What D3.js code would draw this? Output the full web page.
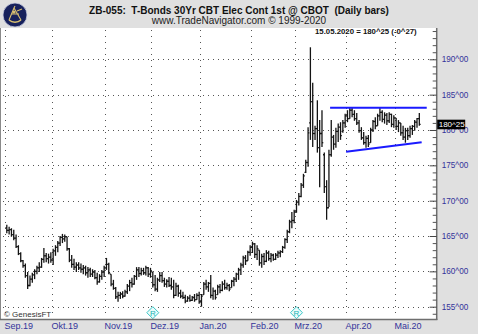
<!DOCTYPE html>
<html><head><meta charset="utf-8">
<script src="https://cdn.jsdelivr.net/npm/d3@7"></script>
<style>
html,body{margin:0;padding:0;background:#e0e0e0;overflow:hidden;}
svg{display:block;font-family:"Liberation Sans",Arial,sans-serif;}
</style></head><body>
<svg id="c" width="478" height="334"></svg>
<script>
// ---- data ----
const highs = [
166.6,166.3,166.1,165.9,165.2,163.7,162.7,161.6,161.1,159.9,
159.4,159.8,160.3,160.8,161.3,161.9,163.3,162.6,162.5,162.7,
163.2,163.7,164.3,165.0,165.3,165.2,164.9,163.3,162.3,161.8,
161.3,161.3,161.1,160.9,160.8,160.6,160.5,160.3,160.2,159.8,
159.6,160.2,160.8,161.9,161.2,159.6,158.8,157.8,157.1,157.1,
157.2,157.4,158.2,158.8,159.1,159.5,160.6,160.6,160.5,160.5,
160.8,160.6,160.5,159.9,159.5,159.1,159.9,159.9,159.1,158.9,
159.2,159.1,158.8,158.4,158.1,157.4,157.1,156.7,156.5,156.7,
156.5,156.8,156.9,157.1,156.8,158.5,158.8,158.5,159.5,157.7,
157.4,158.1,158.2,158.6,158.8,158.4,158.2,158.8,159.2,159.8,
160.5,161.2,162.2,162.3,162.9,163.7,164.2,164.0,163.7,163.0,
162.5,162.6,163.0,162.9,162.6,162.5,162.6,162.9,163.0,163.6,
164.7,165.9,167.3,168.4,168.7,170.1,171.1,172.5,173.8,175.8,
180.4,191.7,186.7,180.6,184.2,181.4,182.8,176.8,172.9,177.2,
181.4,179.3,180.3,180.9,181.1,181.4,182.3,182.8,183.1,183.2,
182.8,182.4,181.4,180.4,179.7,179.2,179.3,180.3,181.4,181.8,
182.3,183.2,182.8,182.5,182.4,182.5,182.3,182.1,181.7,181.4,
181.0,180.6,180.3,180.3,180.6,180.7,181.4,181.7,182.4];
const lows = [
165.4,165.2,164.9,164.4,163.3,162.3,161.3,160.5,159.1,157.5,
157.9,158.4,158.9,159.6,159.9,160.5,161.2,161.3,161.1,161.2,
160.9,162.2,162.7,163.6,164.0,164.2,162.9,161.3,160.5,160.2,
159.9,160.2,159.8,159.6,159.4,159.1,159.2,159.2,158.9,158.1,
158.4,158.8,159.2,160.2,159.6,157.9,157.4,156.1,155.7,156.1,
156.2,156.4,156.8,157.2,157.7,158.1,158.8,159.2,159.4,159.5,
159.4,159.2,159.1,157.7,157.2,157.1,158.5,158.4,157.8,157.7,
157.8,157.4,156.2,156.5,156.4,156.2,156.1,155.5,155.7,155.7,
155.8,155.7,156.0,155.4,155.0,156.7,157.4,157.1,156.2,156.0,
156.0,156.7,156.9,157.2,157.4,157.4,157.2,157.7,157.9,158.5,
158.8,159.5,160.5,160.9,161.5,162.2,162.6,161.9,161.6,160.8,
160.5,160.9,161.3,161.5,161.3,161.5,161.6,161.9,162.0,162.6,
163.2,164.0,165.4,166.1,166.8,168.3,169.3,170.5,171.8,173.9,
174.8,178.6,177.6,178.6,176.8,171.9,177.6,171.1,167.3,169.1,
176.2,177.2,177.5,178.3,178.6,179.6,180.3,181.1,181.6,181.8,
181.3,180.7,179.6,178.6,177.9,177.5,177.6,178.2,179.7,180.1,
180.6,181.3,181.1,180.9,180.7,181.0,180.4,180.3,180.0,179.7,
179.2,178.6,178.2,178.6,178.9,179.3,179.9,180.3,180.6];
const opens = [
166.2,165.8,165.9,165.2,164.7,163.5,162.5,161.5,160.8,159.4,
158.0,158.9,159.5,160.0,160.5,160.6,161.7,162.2,161.8,162.0,
161.6,162.9,163.4,164.0,164.8,164.6,164.9,163.2,161.6,161.0,
160.6,160.9,160.5,160.3,160.5,159.8,160.2,159.6,159.9,159.1,
158.5,159.3,159.9,160.5,161.0,159.6,158.2,157.6,156.4,156.6,
156.8,156.5,157.1,157.9,158.4,158.2,159.3,160.2,159.7,160.1,
159.8,160.5,159.6,159.9,158.1,157.5,158.8,159.4,158.7,158.2,
158.6,158.0,157.8,156.6,157.9,156.9,156.5,156.3,155.8,156.2,
155.9,156.3,156.0,156.6,155.7,156.7,158.2,157.8,158.3,156.6,
157.2,156.7,157.8,157.3,158.2,157.7,158.0,157.7,158.6,158.9,
159.6,160.2,160.9,161.9,161.5,162.7,163.4,163.9,162.4,163.0,
161.2,162.1,161.4,162.6,161.8,162.3,161.7,162.3,162.6,162.8,
163.4,164.5,165.6,167.0,167.2,168.4,169.8,170.6,172.2,174.0,
175.4,181.0,184.0,179.5,180.2,177.5,179.5,176.5,172.0,169.0,
176.5,179.0,178.0,179.8,180.4,179.8,181.0,182.0,181.6,182.8,
182.2,181.6,181.0,179.9,178.9,178.2,178.8,178.2,180.0,181.2,
180.6,182.0,182.5,181.5,182.1,181.3,182.2,180.8,181.7,180.5,
181.0,179.6,179.0,179.9,179.2,180.2,180.5,181.1,181.6];
const closes = [
165.8,165.9,165.2,164.7,163.5,162.5,161.5,160.8,159.4,158.0,
158.9,159.5,160.0,160.5,160.6,161.7,162.2,161.8,162.0,161.6,
162.9,163.4,164.0,164.8,164.6,164.9,163.2,161.6,161.0,160.6,
160.9,160.5,160.3,160.5,159.8,160.2,159.6,159.9,159.1,158.5,
159.3,159.9,160.5,161.0,159.8,158.2,157.6,156.4,156.6,156.8,
156.5,157.1,157.9,158.4,158.2,159.3,160.2,159.7,160.1,159.8,
160.5,159.6,160.0,158.1,157.5,158.8,159.4,158.7,158.2,158.6,
158.0,157.8,156.6,157.9,156.9,156.5,156.3,155.8,156.2,155.9,
156.3,156.0,156.6,155.7,156.5,158.2,157.8,158.3,156.6,157.2,
156.3,157.8,157.3,158.2,157.7,158.0,157.5,158.6,158.9,159.6,
160.2,160.9,161.9,161.5,162.7,163.4,163.9,162.4,163.2,161.2,
162.1,161.4,162.6,161.8,162.3,161.7,162.3,162.6,162.8,163.4,
164.5,165.6,167.0,167.2,168.4,169.8,170.6,172.2,173.5,175.4,
179.6,184.0,179.5,180.2,177.5,179.5,178.2,172.0,169.0,176.5,
179.0,178.0,179.8,180.4,179.2,181.0,182.0,181.6,182.8,182.2,
181.6,181.0,179.9,178.9,178.2,178.8,178.0,180.0,181.2,180.6,
182.0,182.5,181.5,182.1,181.3,182.2,180.8,181.7,180.5,181.0,
179.6,179.0,179.9,179.2,180.2,180.5,181.1,181.6,180.78];

const monthLabels = ["Sep.19","Okt.19","Nov.19","Dez.19","Jan.20","Feb.20","Mrz.20","Apr.20","Mai.20"];
const monthStarts = [0,20,43,63,84,106,125,147,168];
const priceTicks = [155,160,165,170,175,180,185,190];
const minorTicks = [154,156,157,158,159,161,162,163,164,166,167,168,169,171,172,173,174,176,177,178,179,181,182,183,184,186,187,188,189,191,192,193,194];
const rollIdx = [63,125];
const trendTopIdx = [140,181.7], trendTopPrice = [183.16,183.16];
const trendBotIdx = [146.9,179.5], trendBotPrice = [176.92,178.26];
const lastPrice = 180.78, lastLabel = "180^25";
const titleText = "ZB-055:  T-Bonds 30Yr CBT Elec Cont 1st @ CBOT  (Daily bars)";
const subText = "www.TradeNavigator.com \u00A9 1999-2020";
const infoText = "15.05.2020 = 180^25 (-0^27)";

// ---- layout ----
const svg = d3.select("#c");
const P = {l:1, t:28, r:436.7, b:319};
const x = d3.scaleLinear().domain([0,186]).range([5.65, 436.7]);
const y = d3.scaleLinear().domain([155,190]).range([306.7, 59.3]);

svg.append("rect").attr("width",478).attr("height",334).attr("fill","#e0e0e0");
svg.append("rect").attr("x",P.l).attr("y",P.t).attr("width",P.r-P.l).attr("height",P.b-P.t).attr("fill","#ffffff");

// grid
const grid = svg.append("g").attr("stroke","#555").attr("stroke-width",1);
grid.selectAll("line.h").data(priceTicks).join("line").attr("class","h")
  .attr("x1",P.l+2).attr("x2",P.r-2)
  .attr("y1",d=>Math.round(y(d))+0.5).attr("y2",d=>Math.round(y(d))+0.5)
  .attr("stroke-dasharray","1,4");
grid.selectAll("line.v").data(monthStarts).join("line").attr("class","v")
  .attr("x1",d=>Math.round(x(d+0.3))-0.5).attr("x2",d=>Math.round(x(d+0.3))-0.5)
  .attr("y1",P.t+2).attr("y2",P.b-2)
  .attr("stroke-dasharray","1,5");

// OHLC bars
const bars = svg.append("g").attr("stroke","#141414").attr("stroke-width",1.3);
const idx = d3.range(highs.length);
bars.selectAll("g").data(idx).join("g").each(function(i){
  const g = d3.select(this), cx = x(i+0.5);
  g.append("line").attr("x1",cx).attr("x2",cx).attr("y1",y(highs[i])).attr("y2",y(lows[i]));
  g.append("line").attr("x1",cx-1.3).attr("x2",cx).attr("y1",y(opens[i])).attr("y2",y(opens[i]));
  g.append("line").attr("x1",cx).attr("x2",cx+1.3).attr("y1",y(closes[i])).attr("y2",y(closes[i]));
});

// trend lines
const tl = d3.line().x(d=>x(d[0])).y(d=>y(d[1]));
svg.append("path").attr("d",tl(d3.zip(trendTopIdx,trendTopPrice))).attr("stroke","#1a1aff").attr("stroke-width",2).attr("fill","none");
svg.append("path").attr("d",tl(d3.zip(trendBotIdx,trendBotPrice))).attr("stroke","#1a1aff").attr("stroke-width",2).attr("fill","none");

// roll markers
const rm = svg.selectAll("g.roll").data(rollIdx).join("g").attr("class","roll")
  .attr("transform",d=>`translate(${x(d+0.5)},312.7)`);
rm.append("path").attr("d","M0,-6L6,0L0,6L-6,0Z").attr("fill","#eafcfc").attr("stroke","#3cc8c8").attr("stroke-width",1);
rm.append("text").text("R").attr("text-anchor","middle").attr("y",3).attr("font-size",8).attr("fill","#22b4b4");

// borders
svg.append("line").attr("x1",P.l-0.5).attr("x2",P.l-0.5).attr("y1",P.t).attr("y2",P.b).attr("stroke","#8a8a8a");
svg.append("line").attr("x1",P.r).attr("x2",P.r).attr("y1",P.t).attr("y2",P.b+1).attr("stroke","#6e6e6e").attr("stroke-width",1.5);
svg.append("line").attr("x1",0).attr("x2",P.r+0.7).attr("y1",P.b+0.5).attr("y2",P.b+0.5).attr("stroke","#6e6e6e").attr("stroke-width",1.5);

// right axis
const ax = svg.append("g").attr("transform",`translate(${P.r},0)`)
  .call(d3.axisRight(y).tickValues(priceTicks).tickSizeInner(-7).tickSizeOuter(0).tickPadding(5).tickFormat(d=>d+"^00"));
ax.select(".domain").remove();
ax.selectAll("line").attr("stroke","#444");
ax.selectAll("text").attr("fill","#33339a").attr("font-size",8.2).attr("font-family","Liberation Sans, Arial, sans-serif");
const axm = svg.append("g").attr("transform",`translate(${P.r},0)`)
  .call(d3.axisRight(y).tickValues(minorTicks).tickSizeInner(-4).tickSizeOuter(0).tickFormat(""));
axm.select(".domain").remove();
axm.selectAll("line").attr("stroke","#555");

// last price box
const ly = y(lastPrice);
svg.append("rect").attr("x",P.r+0.5).attr("y",ly-4.8).attr("width",28).attr("height",9.6).attr("fill","#000");
svg.append("text").attr("x",P.r+2).attr("y",ly+3).text(lastLabel).attr("fill","#fff").attr("font-size",8);

// x labels
svg.selectAll("text.mx").data(monthStarts).join("text").attr("class","mx")
  .attr("x",d=>Math.round(x(d+0.3))-1.5).attr("y",328.5).text((d,i)=>monthLabels[i])
  .attr("fill","#33339a").attr("font-size",9);

// header
const logo = svg.append("g").attr("transform","translate(15,15)");
logo.append("circle").attr("r",12).attr("fill","#17215c").attr("stroke","#c9cde0").attr("stroke-width",0.8);
logo.append("path").attr("d","M-6,5 A9,9 0 0 0 6,5").attr("fill","none").attr("stroke","#d9c070").attr("stroke-width",1.6);
logo.append("path").attr("d","M-1,-7 L-6,5 M-1,-7 L6,5 M-4,-1 L4,-1 M-1,-7 L0,-9 M2,-4 L7,-6").attr("fill","none").attr("stroke","#d9c070").attr("stroke-width",1.1);
logo.append("circle").attr("cx",-1).attr("cy",-3).attr("r",1.6).attr("fill","#d9c070");

svg.append("text").attr("x",239).attr("y",13.5).attr("text-anchor","middle").style("white-space","pre")
  .attr("font-weight","bold").attr("font-size",10).attr("fill","#111").text(titleText);
svg.append("text").attr("x",239).attr("y",24.3).attr("text-anchor","middle")
  .attr("font-size",10).attr("fill","#222").text(subText);
svg.append("text").attr("x",315).attr("y",33.7).attr("font-weight","bold")
  .attr("font-size",7.8).attr("fill","#111").text(infoText);
svg.append("text").attr("x",4).attr("y",317.3).attr("font-size",8).attr("fill","#333").text("\u00A9 GenesisFT");
</script>
</body></html>
